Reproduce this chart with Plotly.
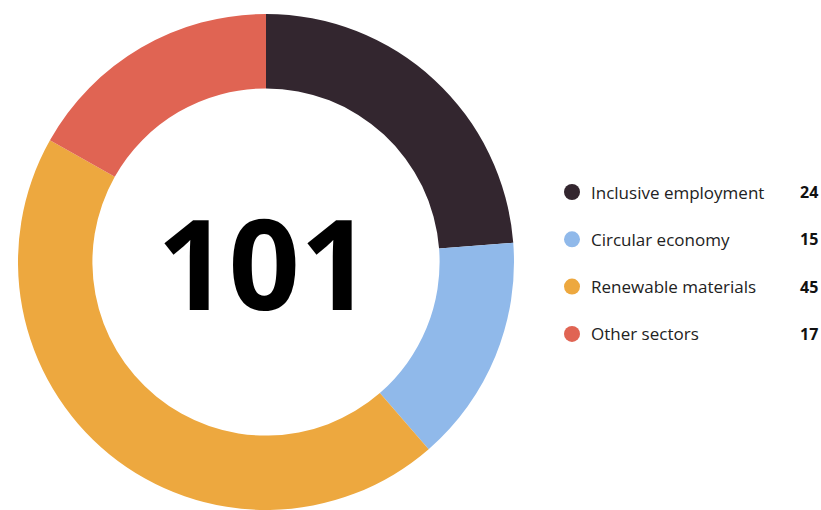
import plotly.graph_objects as go

categories = ["Inclusive employment", "Circular economy", "Renewable materials", "Other sectors"]
values = [24, 15, 45, 17]
colors = ["#33262F", "#90B9EA", "#EDA83F", "#E06453"]
total_label = str(sum(values))

W, H = 821, 510
cx, cy, r = 266, 262, 248

fig = go.Figure()
fig.add_trace(go.Pie(
    labels=categories, values=values, sort=False, direction="clockwise", rotation=0,
    hole=0.7, marker=dict(colors=colors, line=dict(width=0)),
    textinfo="none", hoverinfo="label+value", showlegend=False,
    domain=dict(x=[(cx - r) / W, (cx + r) / W], y=[1 - (cy + r) / H, 1 - (cy - r) / H]),
))

# legend rows
row_y0, row_dy = 192, 47.3
ys = [row_y0 + i * row_dy for i in range(len(categories))]
fig.add_trace(go.Scatter(
    x=[572] * len(categories), y=ys, mode="markers",
    marker=dict(size=16, color=colors, line=dict(width=0)),
    hoverinfo="skip", showlegend=False, xaxis="x", yaxis="y",
))

annotations = [dict(
    x=(cx - 2) / W, y=1 - (cy - 1) / H, xref="paper", yref="paper", text=f"<b>{total_label}</b>",
    showarrow=False, xanchor="center", yanchor="middle",
    font=dict(family="Open Sans", size=125, color="#000000"),
)]
for cat, val, y in zip(categories, values, ys):
    annotations.append(dict(x=589, y=y, xref="x", yref="y", text=cat, showarrow=False,
                            xanchor="left", yanchor="middle",
                            font=dict(family="Open Sans", size=17, color="#222222")))
    annotations.append(dict(x=820, y=y, xref="x", yref="y", text=f"<b>{val}</b>", showarrow=False,
                            xanchor="right", yanchor="middle",
                            font=dict(family="Open Sans", size=16, color="#111111")))

fig.update_layout(
    width=W, height=H, margin=dict(l=0, r=0, t=0, b=0),
    paper_bgcolor="white", plot_bgcolor="rgba(0,0,0,0)",
    xaxis=dict(range=[0, W], domain=[0, 1], visible=False, fixedrange=True),
    yaxis=dict(range=[H, 0], domain=[0, 1], visible=False, fixedrange=True),
    annotations=annotations,
)
fig.write_html("out.html")
